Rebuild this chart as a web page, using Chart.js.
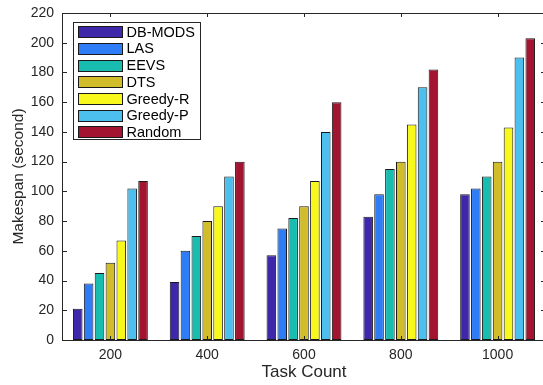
<!DOCTYPE html>
<html><head><meta charset="utf-8">
<script src="https://cdn.jsdelivr.net/npm/chart.js@4"></script>
<style>html,body{margin:0;padding:0;overflow:hidden;background:#fff;width:543px;height:385px}canvas{display:block}</style>
</head><body>
<canvas id="c" width="548" height="385"></canvas>
<script>
const categories = ['200', '400', '600', '800', '1000'];
const seriesNames = ['DB-MODS', 'LAS', 'EEVS', 'DTS', 'Greedy-R', 'Greedy-P', 'Random'];
const dbMods  = [21, 39, 57, 83, 98];
const las     = [38, 60, 75, 98, 102];
const eevs    = [45, 70, 82, 115, 110];
const dts     = [52, 80, 90, 120, 120];
const greedyR = [67, 90, 107, 145, 143];
const greedyP = [102, 110, 140, 170, 190];
const random  = [107, 120, 160, 182, 203];
const yTicks  = [0, 20, 40, 60, 80, 100, 120, 140, 160, 180, 200, 220];

const seriesValues = [dbMods, las, eevs, dts, greedyR, greedyP, random];
const seriesColors = ['#3e27a8', '#2f7df6', '#19bdb0', '#d1bc2a', '#f8f81c', '#4dbfee', '#a2142f'];
const FONT = '"Liberation Sans", Arial, Helvetica, sans-serif';
const AXIS = '#262626';

const framePlugin = {
  id: 'frame',
  afterDatasetsDraw(chart) {
    const {ctx, chartArea: {left, right, top, bottom}, scales: {x, y}} = chart;
    ctx.save();
    ctx.strokeStyle = AXIS;
    ctx.lineWidth = 1;
    ctx.beginPath();
    ctx.moveTo(left, top + 0.5); ctx.lineTo(right, top + 0.5);
    ctx.moveTo(right - 0.5, top); ctx.lineTo(right - 0.5, bottom);
    y.ticks.forEach(t => {
      const py = Math.round(y.getPixelForValue(t.value)) + 0.5;
      ctx.moveTo(left, py); ctx.lineTo(left + 5, py);
      ctx.moveTo(right, py); ctx.lineTo(right - 5, py);
    });
    categories.forEach((c, i) => {
      const px = Math.round(x.getPixelForValue(i)) + 0.5;
      ctx.moveTo(px, bottom); ctx.lineTo(px, bottom - 4);
      ctx.moveTo(px, top); ctx.lineTo(px, top + 4);
    });
    ctx.stroke();

    // legend box
    const lx = 73.5, ly = 22.5, lw = 127, lh = 117;
    ctx.fillStyle = '#ffffff';
    ctx.fillRect(lx, ly, lw, lh);
    ctx.strokeStyle = AXIS;
    ctx.strokeRect(lx, ly, lw, lh);
    ctx.font = '14.5px ' + FONT;
    ctx.textBaseline = 'middle';
    ctx.textAlign = 'left';
    chart.data.datasets.forEach((ds, i) => {
      const cy = 31.7 + i * 16.7;
      ctx.fillStyle = ds.backgroundColor;
      ctx.fillRect(78.5, Math.round(cy - 5.5) + 0.5, 44, 11);
      ctx.strokeStyle = '#1a1a1a';
      ctx.strokeRect(78.5, Math.round(cy - 5.5) + 0.5, 44, 11);
      ctx.fillStyle = '#000000';
      ctx.fillText(ds.label, 126.5, cy + 1);
    });
    ctx.restore();
  }
};

new Chart(document.getElementById('c'), {
  type: 'bar',
  data: {
    labels: categories,
    datasets: seriesNames.map((name, i) => ({
      label: name,
      data: seriesValues[i],
      backgroundColor: seriesColors[i],
      borderColor: '#1a1a1a',
      borderWidth: 1,
      borderSkipped: false,
      categoryPercentage: 0.787,
      barPercentage: 0.88
    }))
  },
  options: {
    responsive: false,
    animation: false,
    devicePixelRatio: 1,
    layout: {padding: {top: 13, right: 2, left: 0, bottom: 0}},
    plugins: {legend: {display: false}, tooltip: {enabled: false}},
    scales: {
      x: {
        grid: {display: false, drawTicks: false},
        border: {display: true, color: AXIS, width: 1},
        ticks: {color: AXIS, font: {family: FONT, size: 14}, padding: 7, maxRotation: 0},
        title: {display: true, text: 'Task Count', color: AXIS, font: {family: FONT, size: 17}, padding: {top: 0, bottom: 2}},
        afterFit(s) { s.height = 45; }
      },
      y: {
        min: 0, max: 220,
        grid: {display: false, drawTicks: false},
        border: {display: true, color: AXIS, width: 1},
        ticks: {color: AXIS, font: {family: FONT, size: 14, lineHeight: 0.6}, padding: 8, stepSize: 20},
        afterBuildTicks(s) { s.ticks = yTicks.map(v => ({value: v})); },
        title: {display: true, text: 'Makespan (second)', color: AXIS, font: {family: FONT, size: 15.5}, padding: {top: 9, bottom: 0}},
        afterFit(s) { s.width = 62; }
      }
    }
  },
  plugins: [framePlugin]
});
</script>
</body></html>
